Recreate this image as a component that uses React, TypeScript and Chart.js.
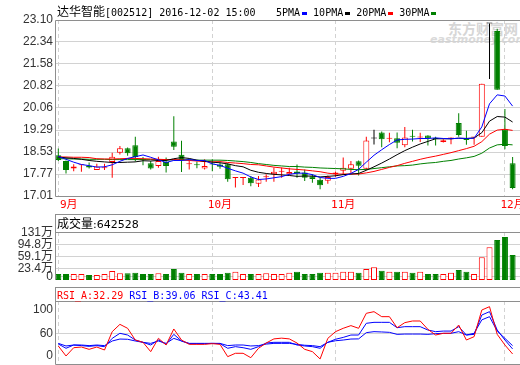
import React, { useEffect, useRef } from "react";
import { Chart, registerables } from "chart.js";

Chart.register(...registerables);

// ---------------- data ----------------
const DATES = [
  "09-01", "09-02", "09-05", "09-06", "09-07", "09-08", "09-09", "09-12", "09-13", "09-14",
  "09-19", "09-20", "09-21", "09-22", "09-23", "09-26", "09-27", "09-28", "09-29", "09-30",
  "10-10", "10-11", "10-12", "10-13", "10-14", "10-17", "10-18", "10-19", "10-20", "10-21",
  "10-24", "10-25", "10-26", "10-27", "10-28", "10-31",
  "11-01", "11-02", "11-03", "11-04", "11-07", "11-08", "11-09", "11-10", "11-11", "11-14",
  "11-15", "11-16", "11-17", "11-18", "11-21", "11-22", "11-23", "11-24", "11-25", "11-28",
  "11-29", "11-30",
  "12-01", "12-02",
];
const MONTH_LABELS = ["9月", "10月", "11月", "12月"];

const OPEN = [18.42, 18.22, 17.96, 18.07, 18.06, 17.91, 17.97, 18.19, 18.51, 18.66, 18.77, 18.30, 18.14, 18.05, 18.19, 18.90, 18.44, 18.11, 18.08, 17.96, 18.12, 18.10, 18.11, 17.63, 17.63, 17.64, 17.43, 17.66, 17.76, 17.85, 17.76, 17.86, 17.82, 17.69, 17.57, 17.54, 17.77, 17.88, 17.95, 18.21, 17.95, 19.00, 19.21, 18.99, 19.01, 18.77, 19.07, 19.03, 19.10, 19.00, 18.88, 19.00, 19.54, 19.01, 19.03, 19.06, 22.98, 22.72, 19.32, 18.14];
const HIGH = [18.65, 18.24, 18.11, 18.09, 18.17, 18.13, 18.13, 18.51, 18.74, 18.69, 19.06, 18.36, 18.22, 18.37, 18.34, 19.77, 18.92, 18.25, 18.20, 18.28, 18.28, 18.16, 18.14, 17.66, 17.65, 17.70, 17.70, 17.76, 18.00, 18.00, 17.99, 18.10, 17.93, 17.76, 17.64, 17.72, 17.86, 18.34, 18.22, 18.24, 19.06, 19.30, 19.24, 19.20, 19.21, 19.40, 19.30, 19.20, 19.11, 19.06, 18.97, 19.03, 19.87, 19.27, 19.05, 20.89, 22.98, 22.80, 20.02, 18.36];
const LOW = [18.22, 17.79, 17.87, 17.85, 17.96, 17.91, 17.91, 17.64, 18.45, 18.40, 18.20, 18.07, 17.93, 17.99, 17.82, 18.60, 17.84, 17.93, 17.97, 17.93, 17.87, 17.95, 17.50, 17.30, 17.39, 17.35, 17.32, 17.50, 17.50, 17.64, 17.74, 17.64, 17.53, 17.47, 17.24, 17.43, 17.68, 17.74, 17.78, 17.72, 17.90, 18.79, 18.70, 18.87, 18.66, 18.70, 18.90, 18.88, 18.76, 18.76, 18.86, 18.80, 19.06, 18.78, 18.78, 19.06, 21.06, 20.69, 18.63, 17.24];
const CLOSE = [18.26, 17.91, 18.03, 18.08, 18.00, 18.03, 17.98, 18.37, 18.66, 18.49, 18.36, 18.26, 17.96, 18.22, 18.05, 18.71, 18.26, 18.12, 18.07, 18.05, 18.10, 18.02, 17.59, 17.64, 17.64, 17.45, 17.58, 17.67, 17.85, 17.86, 17.84, 17.79, 17.64, 17.60, 17.38, 17.67, 17.82, 17.99, 18.11, 18.06, 18.93, 19.00, 18.97, 19.00, 18.85, 19.03, 19.06, 19.04, 19.00, 18.98, 18.94, 19.01, 19.12, 18.95, 19.04, 20.89, 22.98, 20.69, 18.74, 17.29];

const MA5 = [18.38, 18.28, 18.18, 18.10, 18.06, 18.01, 18.02, 18.09, 18.21, 18.31, 18.37, 18.43, 18.35, 18.26, 18.17, 18.24, 18.24, 18.27, 18.24, 18.24, 18.12, 18.07, 17.97, 17.88, 17.80, 17.67, 17.58, 17.60, 17.64, 17.68, 17.76, 17.80, 17.80, 17.75, 17.65, 17.62, 17.62, 17.69, 17.79, 17.93, 18.18, 18.42, 18.61, 18.79, 18.95, 18.97, 18.98, 19.00, 19.00, 19.02, 19.00, 18.99, 19.01, 19.00, 19.01, 19.40, 20.20, 20.51, 20.47, 20.12];
const MA10 = [18.36, 18.33, 18.31, 18.28, 18.24, 18.21, 18.19, 18.17, 18.17, 18.18, 18.19, 18.23, 18.22, 18.24, 18.24, 18.30, 18.34, 18.31, 18.25, 18.21, 18.18, 18.16, 18.12, 18.06, 18.02, 17.90, 17.83, 17.79, 17.76, 17.74, 17.72, 17.69, 17.70, 17.70, 17.67, 17.69, 17.71, 17.75, 17.77, 17.79, 17.90, 18.02, 18.15, 18.29, 18.44, 18.58, 18.70, 18.81, 18.90, 18.99, 18.99, 18.99, 19.01, 19.00, 19.02, 19.20, 19.60, 19.76, 19.74, 19.57];
const MA20 = [18.36, 18.36, 18.35, 18.35, 18.34, 18.30, 18.29, 18.29, 18.30, 18.31, 18.31, 18.30, 18.29, 18.28, 18.27, 18.27, 18.26, 18.24, 18.22, 18.20, 18.19, 18.20, 18.17, 18.15, 18.13, 18.10, 18.09, 18.05, 18.01, 17.98, 17.95, 17.93, 17.91, 17.88, 17.85, 17.80, 17.77, 17.77, 17.77, 17.77, 17.81, 17.86, 17.93, 18.00, 18.06, 18.14, 18.21, 18.28, 18.34, 18.39, 18.45, 18.51, 18.58, 18.65, 18.73, 18.89, 19.15, 19.29, 19.32, 19.28];
const MA30 = [18.30, 18.30, 18.29, 18.29, 18.28, 18.28, 18.28, 18.27, 18.27, 18.27, 18.27, 18.27, 18.27, 18.27, 18.26, 18.26, 18.26, 18.26, 18.25, 18.25, 18.25, 18.25, 18.24, 18.22, 18.20, 18.17, 18.13, 18.10, 18.07, 18.05, 18.03, 18.03, 18.01, 18.00, 17.98, 17.97, 17.96, 17.95, 17.93, 17.92, 17.93, 17.96, 17.99, 18.02, 18.05, 18.06, 18.08, 18.12, 18.15, 18.17, 18.21, 18.24, 18.29, 18.33, 18.38, 18.49, 18.67, 18.78, 18.80, 18.78];

// volume, in 万 (10k shares)
const VOLUME = [8.0, 8.0, 8.0, 8.0, 5.0, 5.0, 8.0, 16.9, 10.0, 10.0, 12.0, 8.0, 8.0, 10.0, 8.0, 22.8, 12.0, 8.0, 8.0, 8.0, 8.0, 8.0, 12.0, 14.9, 8.0, 8.0, 8.0, 10.0, 8.0, 8.0, 12.0, 14.9, 8.0, 8.0, 12.0, 12.0, 12.0, 14.9, 14.9, 12.0, 22.8, 27.8, 17.9, 14.9, 14.9, 14.9, 12.0, 14.9, 8.0, 8.0, 8.0, 12.0, 19.9, 14.9, 8.0, 57.4, 87.0, 108.7, 117.6, 64.25];

const RSI_A = [43.0, 29.6, 40.7, 41.6, 38.5, 41.6, 37.6, 62.2, 72.0, 66.7, 51.0, 47.9, 35.4, 53.3, 44.3, 65.8, 51.0, 45.2, 45.2, 45.2, 46.1, 45.2, 28.7, 33.2, 33.2, 27.3, 39.9, 47.0, 52.5, 53.5, 52.5, 47.0, 38.5, 35.4, 25.6, 53.2, 62.2, 66.7, 70.3, 66.7, 86.8, 89.0, 82.3, 82.3, 67.5, 74.3, 76.5, 76.5, 65.3, 57.7, 60.0, 60.0, 71.1, 51.0, 55.5, 91.2, 95.7, 58.6, 44.3, 32.29];
const RSI_B = [45.7, 39.9, 44.3, 43.5, 42.5, 43.5, 42.0, 53.2, 60.0, 57.7, 51.0, 47.9, 44.3, 51.0, 45.2, 58.6, 49.7, 46.1, 46.1, 46.1, 46.5, 46.1, 39.9, 42.1, 40.7, 38.5, 42.1, 47.0, 47.9, 47.9, 47.9, 44.3, 43.0, 42.1, 39.9, 47.9, 52.0, 54.5, 57.7, 57.7, 73.4, 74.7, 74.7, 74.7, 67.5, 68.9, 68.9, 68.9, 64.4, 62.2, 63.0, 63.0, 68.9, 57.7, 58.6, 84.5, 89.0, 64.4, 51.0, 39.06];
const RSI_C = [46.5, 43.0, 44.3, 44.3, 43.5, 44.3, 43.5, 49.7, 52.3, 52.0, 49.7, 47.9, 46.5, 49.7, 46.5, 53.2, 49.7, 46.5, 46.5, 46.5, 46.5, 46.5, 43.5, 44.3, 44.3, 43.0, 43.5, 45.5, 46.5, 46.5, 46.5, 45.2, 44.0, 43.5, 42.1, 47.9, 50.0, 51.0, 52.3, 52.5, 60.9, 62.2, 61.8, 61.3, 58.6, 59.0, 59.0, 59.0, 58.6, 59.5, 60.0, 60.0, 62.2, 57.7, 60.0, 78.0, 82.3, 63.0, 53.2, 43.41];

const PRICE_TICKS = [23.10, 22.34, 21.58, 20.82, 20.06, 19.29, 18.53, 17.77, 17.01];
const VOLUME_TICKS = [131, 94.8, 59.1, 23.4, 0];
const RSI_TICK_LABELS = ["100", "60", "0"];
const RSI_TICK_AT = [92.2, 60, 30.0];

const TITLE_NAME = "达华智能";
const TITLE_REST = "[002512] 2016-12-02 15:00";
const MA_LEGEND = [
  ["5PMA", "#0000ff"],
  ["10PMA", "#000000"],
  ["20PMA", "#ff0000"],
  ["30PMA", "#008000"],
];
const VOLUME_HEADER = "成交量";
const VOLUME_NOW = "642528";
const RSI_HEADER = [
  ["RSI_A:32.29", "#ff0000"],
  ["RSI_B:39.06", "#0000ff"],
  ["RSI_C:43.41", "#0000ff"],
];

// ---------------- styling ----------------
const UP = "#ff0000";
const DOWN = "#008000";
const FLAT = "#000000";
const GRID = "#d2d2d2";
const FRAME = "#8e8e8e";
const LABEL = "#333333";
const TICK_FONT = { family: "'Liberation Sans', 'Noto Sans CJK SC', sans-serif", size: 12 };
const MONO = "'DejaVu Sans Mono', 'Noto Sans CJK SC', monospace";
const CJK = "'Noto Sans CJK SC', sans-serif";

const X_MIN = -0.3;
const X_MAX = 59.96;
const VOL_MIN = -9.8;
const VOL_MAX = 132.5;
const RSI_MIN = 18.85;
const RSI_MAX = 103.3;

const monthStarts = DATES.map((d, i) => (i === 0 || d.slice(0, 2) !== DATES[i - 1].slice(0, 2) ? i : -1)).filter((i) => i >= 0);
const candleColor = (i: number) => (CLOSE[i] > OPEN[i] ? UP : CLOSE[i] < OPEN[i] ? DOWN : FLAT);
const isUp = (i: number) => CLOSE[i] >= OPEN[i];

function xScale(height: number) {
  return {
    type: "linear",
    min: X_MIN,
    max: X_MAX,
    offset: false,
    afterBuildTicks: (s: any) => {
      s.ticks = monthStarts.map((v) => ({ value: v }));
    },
    afterFit: (s: any) => {
      s.height = height;
    },
    ticks: { display: false },
    grid: { color: GRID, drawTicks: false, offset: false, lineWidth: 1 },
    border: { display: false, dash: [4, 3] },
  };
}

function yScale(min: number, max: number, ticks: number[], fmt: any, gridColor?: any) {
  return {
    type: "linear",
    min,
    max,
    beginAtZero: false,
    afterBuildTicks: (s: any) => {
      s.ticks = ticks.map((v) => ({ value: v }));
    },
    afterFit: (s: any) => {
      s.width = 56;
      s.paddingTop = 0;
      s.paddingBottom = 0;
    },
    ticks: { autoSkip: false, padding: 3, color: LABEL, font: TICK_FONT, callback: fmt },
    grid: { color: gridColor ?? GRID, drawTicks: false },
    border: { display: false },
  };
}

function framePlugin(header: boolean, bottom: boolean) {
  return {
    id: "frame",
    afterDraw(chart: any) {
      const { ctx, chartArea: a, width } = chart;
      ctx.save();
      ctx.strokeStyle = FRAME;
      ctx.lineWidth = 1;
      ctx.setLineDash([]);
      ctx.beginPath();
      const left = Math.round(a.left) - 0.5;
      const top = Math.round(a.top) + 0.5;
      const bot = Math.round(a.bottom) + 0.5;
      ctx.moveTo(left, header ? 0 : top);
      ctx.lineTo(left, bottom ? bot : Math.round(a.bottom));
      if (header) {
        ctx.moveTo(left, 0.5);
        ctx.lineTo(width, 0.5);
      }
      ctx.moveTo(left, top);
      ctx.lineTo(width, top);
      if (bottom) {
        ctx.moveTo(left, bot);
        ctx.lineTo(width, bot);
      }
      ctx.stroke();
      ctx.restore();
    },
  };
}

const monthLabelPlugin = {
  id: "monthLabels",
  afterDraw(chart: any) {
    const { ctx, chartArea: a, scales } = chart;
    ctx.save();
    ctx.fillStyle = UP;
    ctx.font = `11px ${MONO}`;
    ctx.textBaseline = "middle";
    ctx.textAlign = "left";
    monthStarts.forEach((idx, k) => {
      const x = scales.x.getPixelForValue(idx);
      ctx.fillText(MONTH_LABELS[k], Math.max(x - 4.5, a.left + 4), a.bottom + 9.5);
    });
    ctx.restore();
  },
};

const line = (label: string, values: number[], color: string, order = 0) => ({
  type: "line",
  label,
  data: values.map((v, i) => ({ x: i, y: v })),
  borderColor: color,
  backgroundColor: color,
  borderWidth: 1,
  pointRadius: 0,
  tension: 0,
  fill: false,
  order,
});

const baseOptions = {
  responsive: false,
  animation: false,
  devicePixelRatio: 1,
  events: [],
  plugins: { legend: { display: false }, tooltip: { enabled: false }, title: { display: false } },
};

export default function App() {
  const mainRef = useRef<HTMLCanvasElement>(null);
  const volRef = useRef<HTMLCanvasElement>(null);
  const rsiRef = useRef<HTMLCanvasElement>(null);

  useEffect(() => {
    const charts: Chart[] = [];

    charts.push(
      new Chart(mainRef.current as HTMLCanvasElement, {
        type: "bar",
        data: {
          datasets: [
            line("MA5", MA5, "#0000ff"),
            line("MA10", MA10, "#000000"),
            line("MA20", MA20, "#ff0000"),
            line("MA30", MA30, "#008000"),
            {
              type: "bar",
              label: "K",
              data: DATES.map((_, i) => ({ x: i, y: [OPEN[i], CLOSE[i]] })),
              backgroundColor: DATES.map((_, i) => (CLOSE[i] > OPEN[i] ? "#ffffff" : candleColor(i))),
              borderColor: DATES.map((_, i) => candleColor(i)),
              borderWidth: 1,
              borderSkipped: false,
              barThickness: 6,
              minBarLength: 1,
              inflateAmount: 0,
              grouped: false,
              order: 1,
            },
            {
              type: "bar",
              label: "shadow",
              data: DATES.map((_, i) => ({ x: i, y: [LOW[i], HIGH[i]] })),
              backgroundColor: DATES.map((_, i) => candleColor(i)),
              borderWidth: 0,
              barThickness: 1,
              minBarLength: 1,
              inflateAmount: 0,
              grouped: false,
              order: 2,
            },
          ] as any,
        },
        options: {
          ...baseOptions,
          layout: { padding: { top: 20, right: 0, left: 0, bottom: 0 } },
          scales: {
            x: xScale(18),
            y: yScale(17.01, 23.1, PRICE_TICKS, (v: any) => Number(v).toFixed(2)),
          },
        } as any,
        plugins: [framePlugin(false, true), monthLabelPlugin],
      })
    );

    charts.push(
      new Chart(volRef.current as HTMLCanvasElement, {
        type: "bar",
        data: {
          datasets: [
            {
              label: "成交量",
              data: VOLUME.map((v, i) => ({ x: i, y: v })),
              base: VOL_MIN,
              backgroundColor: VOLUME.map((_, i) => (isUp(i) ? "#ffffff" : DOWN)),
              borderColor: VOLUME.map((_, i) => (isUp(i) ? UP : DOWN)),
              borderWidth: 1,
              borderSkipped: false,
              barThickness: 6,
              inflateAmount: 0,
              grouped: false,
            },
          ] as any,
        },
        options: {
          ...baseOptions,
          layout: { padding: { top: 18, right: 0, left: 0, bottom: 0 } },
          scales: {
            x: xScale(7),
            y: yScale(VOL_MIN, VOL_MAX, VOLUME_TICKS, (v: any) => (Number(v) === 0 ? "0" : `${v}万`)),
          },
        } as any,
        plugins: [framePlugin(true, false)],
      })
    );

    charts.push(
      new Chart(rsiRef.current as HTMLCanvasElement, {
        type: "line",
        data: {
          datasets: [
            line("RSI_A", RSI_A, "#ff0000", 0),
            line("RSI_B", RSI_B, "#0000ff", 1),
            line("RSI_C", RSI_C, "#0000ff", 2),
          ] as any,
        },
        options: {
          ...baseOptions,
          layout: { padding: { top: 14, right: 0, left: 0, bottom: 0 } },
          scales: {
            x: xScale(1),
            y: yScale(
              RSI_MIN,
              RSI_MAX,
              RSI_TICK_AT,
              (_v: any, idx: number) => RSI_TICK_LABELS[idx],
              (c: any) => (c.tick && c.tick.value === 60 ? GRID : "rgba(0,0,0,0)")
            ),
          },
        } as any,
        plugins: [framePlugin(true, true)],
      })
    );

    return () => charts.forEach((c) => c.destroy());
  }, []);

  const textRow = (left: number, top: number, h: number): React.CSSProperties => ({
    position: "absolute",
    left,
    top,
    height: h,
    lineHeight: `${h}px`,
    whiteSpace: "nowrap",
    color: "#000",
  });

  return (
    <div style={{ position: "absolute", left: 0, top: 0, width: 520, height: 365, background: "#fff", overflow: "hidden" }}>
      {/* watermark */}
      <div style={{ position: "absolute", left: 448, top: 20, fontFamily: CJK, fontSize: 14, fontWeight: 700, color: "#d6d6d6", lineHeight: "16px", whiteSpace: "nowrap" }}>
        东方财富网
      </div>
      <div style={{ position: "absolute", left: 430, top: 34, fontFamily: "'DejaVu Sans', sans-serif", fontSize: 11, fontStyle: "italic", fontWeight: 700, color: "#dadada", lineHeight: "12px", whiteSpace: "nowrap" }}>
        eastmoney.com
      </div>

      <canvas ref={mainRef} width={520} height={214} style={{ position: "absolute", left: 0, top: 0 }} />
      <canvas ref={volRef} width={520} height={73} style={{ position: "absolute", left: 0, top: 214 }} />
      <canvas ref={rsiRef} width={520} height={78} style={{ position: "absolute", left: 0, top: 287 }} />

      {/* title */}
      <div style={textRow(57, 3, 15)}>
        <span style={{ fontFamily: CJK, fontSize: 12 }}>{TITLE_NAME}</span>
        <span style={{ fontFamily: MONO, fontSize: 10 }}>{TITLE_REST}</span>
      </div>

      {/* MA legend */}
      <div style={textRow(276, 3, 15)}>
        {MA_LEGEND.map(([name, color]) => (
          <span key={name} style={{ fontFamily: MONO, fontSize: 10 }}>
            {name}
            <span style={{ display: "inline-block", width: 5, height: 3, background: color, marginLeft: 2, marginRight: 6, verticalAlign: "middle" }} />
          </span>
        ))}
      </div>

      {/* volume header */}
      <div style={textRow(57, 215, 16)}>
        <span style={{ fontFamily: CJK, fontSize: 12 }}>{VOLUME_HEADER}</span>
        <span style={{ fontFamily: "'DejaVu Sans', sans-serif", fontSize: 11 }}>:{VOLUME_NOW}</span>
      </div>

      {/* RSI header */}
      <div style={textRow(57, 287, 14)}>
        {RSI_HEADER.map(([t, c], k) => (
          <span key={t} style={{ fontFamily: MONO, fontSize: 10, color: c }}>
            {k > 0 ? " " : ""}
            {t}
          </span>
        ))}
      </div>
    </div>
  );
}
